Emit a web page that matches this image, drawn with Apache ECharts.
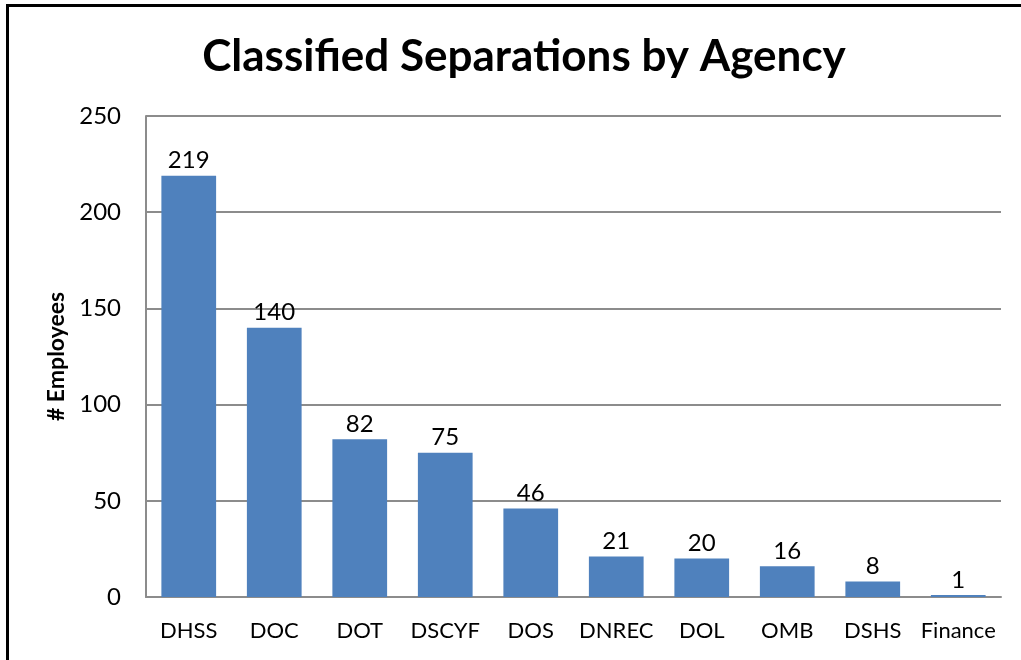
<!DOCTYPE html>
<html>
<head>
<meta charset="utf-8">
<script src="https://cdn.jsdelivr.net/npm/echarts@6/dist/echarts.min.js"></script>
<style>
  body { margin: 0; background: #fff; }
  .frame {
    position: absolute; left: 6px; top: 4px; width: 1015px; height: 656px;
    border-left: 3px solid #000; border-top: 3px solid #000; box-sizing: border-box;
  }
  #chart { position: absolute; left: 0; top: 0; width: 1021px; height: 660px; }
</style>
</head>
<body>
<div class="frame"></div>
<div id="chart"></div>
<script>
const agencies = ['DHSS', 'DOC', 'DOT', 'DSCYF', 'DOS', 'DNREC', 'DOL', 'OMB', 'DSHS', 'Finance']
const separations = [219, 140, 82, 75, 46, 21, 20, 16, 8, 1]

const font = 'Lato, "Open Sans", sans-serif'
const chart = echarts.init(document.getElementById('chart'))

const option = {
  animation: false,
  title: {
    text: 'Classified Separations by Agency',
    left: 519,
    top: 30,
    textAlign: 'center',
    textStyle: { fontFamily: font, fontSize: 44, fontWeight: 'bold', color: '#000' }
  },
  grid: { left: 146, top: 116, right: 20, bottom: 63 },
  xAxis: {
    type: 'category',
    data: agencies,
    axisTick: { show: false },
    axisLine: { lineStyle: { color: '#8c8c8c', width: 2 } },
    axisLabel: { color: '#000', fontFamily: font, fontSize: 22, margin: 23, interval: 0 }
  },
  yAxis: {
    type: 'value',
    min: 0,
    max: 250,
    interval: 50,
    name: '# Employees',
    nameLocation: 'middle',
    nameGap: 75,
    nameTextStyle: { fontFamily: font, fontSize: 23, fontWeight: 'bold', color: '#000' },
    axisLine: { show: true, lineStyle: { color: '#8c8c8c', width: 2 } },
    axisTick: { show: false },
    splitLine: { lineStyle: { color: '#8c8c8c', width: 2 } },
    axisLabel: { color: '#000', fontFamily: font, fontSize: 24, margin: 25 }
  },
  series: [
    {
      type: 'bar',
      data: separations,
      barWidth: '64%',
      itemStyle: { color: '#4f81bd' },
      label: {
        show: true,
        position: 'top',
        distance: 3,
        color: '#000',
        fontFamily: font,
        fontSize: 24
      }
    }
  ]
}
chart.setOption(option)
</script>
</body>
</html>
